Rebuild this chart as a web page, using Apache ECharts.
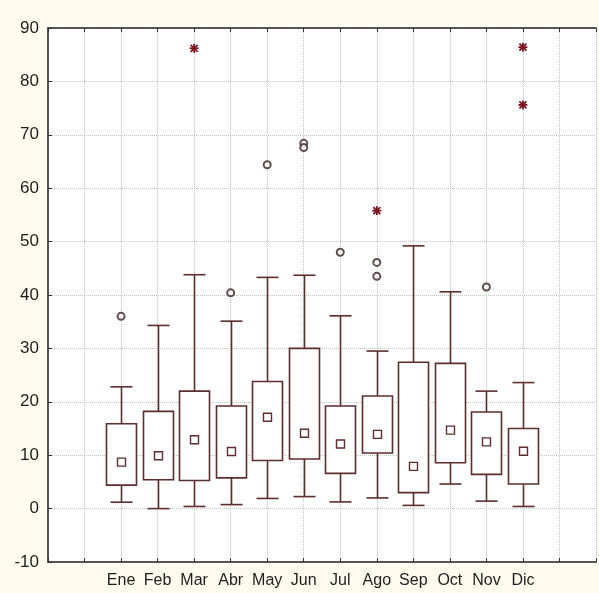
<!DOCTYPE html>
<html>
<head>
<meta charset="utf-8">
<script src="https://cdn.jsdelivr.net/npm/echarts@6/dist/echarts.min.js"></script>
<style>
html,body{margin:0;padding:0;background:#fffbef;}
#c{width:599px;height:593px;}
</style>
</head>
<body>
<div id="c"></div>
<script>
var months = ['Ene','Feb','Mar','Abr','May','Jun','Jul','Ago','Sep','Oct','Nov','Dic'];
var whiskerLow  = [1.2, 0.0, 0.4, 0.75, 1.9, 2.25, 1.25, 2.0, 0.6, 4.6, 1.4, 0.4];
var boxLow      = [4.4, 5.4, 5.25, 5.75, 9.0, 9.3, 6.6, 10.4, 3.0, 8.6, 6.4, 4.6];
var medians     = [8.7, 9.9, 12.9, 10.7, 17.1, 14.1, 12.1, 13.9, 7.9, 14.7, 12.5, 10.75];
var boxHigh     = [15.9, 18.2, 22.0, 19.2, 23.8, 30.0, 19.2, 21.1, 27.4, 27.2, 18.1, 15.0];
var whiskerHigh = [22.8, 34.3, 43.8, 35.1, 43.3, 43.7, 36.1, 29.5, 49.2, 40.6, 22.0, 23.6];
// outliers: [month index, value]
var outliers = [[0,36.0],[3,40.4],[4,64.4],[5,68.4],[5,67.6],[6,48.0],[7,46.1],[7,43.5],[10,41.5]];
// extremes: [month index, value]
var extremes = [[2,86.2],[7,55.8],[11,86.4],[11,75.6]];

var OFFSET = 2; // first month sits at x = 2 on the axis (empty slot before)

var boxData = months.map(function(m,i){
  return [i+OFFSET, whiskerLow[i], boxLow[i], medians[i], boxHigh[i], whiskerHigh[i]];
});
var outData = outliers.map(function(d){ return [d[0]+OFFSET, d[1]]; });
var extData = extremes.map(function(d){ return [d[0]+OFFSET, d[1]]; });

var lineColor = '#5e2d2d';
var font = '"Liberation Sans", Arial, sans-serif';

var chart = echarts.init(document.getElementById('c'));
chart.setOption({
  backgroundColor: '#fffbef',
  animation: false,
  grid: {left: 48, top: 28, bottom: 31, right: -4, show: true, backgroundColor: '#ffffff', borderWidth: 0},
  xAxis: [{
    type: 'value', min: 0, max: 15, interval: 1, position: 'bottom',
    axisLine: {show: true, onZero: false, lineStyle: {color: '#555', width: 2}},
    axisTick: {show: true, inside: true, length: 4, lineStyle: {color: '#333'}},
    axisLabel: {color: '#1e1e1e', fontFamily: font, fontSize: 16, margin: 11,
      formatter: function(v){ return months[v-OFFSET] || ''; }},
    splitLine: {show: true, lineStyle: {color: '#c4c4c4', type: 'dotted', width: 1}}
  },{
    type: 'value', min: 0, max: 15, interval: 1, position: 'top',
    axisLine: {show: true, onZero: false, lineStyle: {color: '#555', width: 2}},
    axisTick: {show: true, inside: true, length: 4, lineStyle: {color: '#333'}},
    axisLabel: {show: false},
    splitLine: {show: false}
  }],
  yAxis: {
    type: 'value', min: -10, max: 90, interval: 10,
    axisLine: {show: true, onZero: false, lineStyle: {color: '#555', width: 2}},
    axisTick: {show: true, inside: true, length: 4, lineStyle: {color: '#333'}},
    axisLabel: {color: '#1e1e1e', fontFamily: font, fontSize: 17, margin: 9},
    splitLine: {show: true, lineStyle: {color: '#c4c4c4', type: 'dotted', width: 1}}
  },
  series: [{
    type: 'custom',
    data: boxData,
    encode: {x: 0, y: [1,2,3,4,5]},
    renderItem: function(params, api){
      var x = api.value(0);
      var pLo = api.coord([x, api.value(1)]);
      var pQ1 = api.coord([x, api.value(2)]);
      var pMd = api.coord([x, api.value(3)]);
      var pQ3 = api.coord([x, api.value(4)]);
      var pHi = api.coord([x, api.value(5)]);
      var cx = Math.round(pMd[0]) + 0.5;
      var bw = 30, cw = 22, sq = 8;
      var st = {stroke: lineColor, lineWidth: 1.6, fill: null};
      return {type: 'group', children: [
        {type: 'line', shape: {x1: cx, y1: pHi[1], x2: cx, y2: pQ3[1]}, style: st},
        {type: 'line', shape: {x1: cx, y1: pQ1[1], x2: cx, y2: pLo[1]}, style: st},
        {type: 'line', shape: {x1: cx-cw/2, y1: pHi[1], x2: cx+cw/2, y2: pHi[1]}, style: st},
        {type: 'line', shape: {x1: cx-cw/2, y1: pLo[1], x2: cx+cw/2, y2: pLo[1]}, style: st},
        {type: 'rect', shape: {x: cx-bw/2, y: pQ3[1], width: bw, height: pQ1[1]-pQ3[1]}, style: {stroke: lineColor, lineWidth: 1.6, fill: '#ffffff'}},
        {type: 'rect', shape: {x: cx-sq/2, y: pMd[1]-sq/2, width: sq, height: sq}, style: {stroke: lineColor, lineWidth: 1.4, fill: '#ffffff'}}
      ]};
    }
  },{
    type: 'scatter',
    data: outData,
    symbol: 'emptyCircle',
    symbolSize: 7,
    itemStyle: {color: '#3a2222', borderColor: '#3a2222', borderWidth: 1.3}
  },{
    type: 'custom',
    data: extData,
    encode: {x: 0, y: 1},
    renderItem: function(params, api){
      var p = api.coord([api.value(0), api.value(1)]);
      var r = 4.5, d = 3.5;
      var st = {stroke: '#7a1520', lineWidth: 1.8};
      return {type: 'group', children: [
        {type: 'line', shape: {x1: p[0]-r, y1: p[1], x2: p[0]+r, y2: p[1]}, style: st},
        {type: 'line', shape: {x1: p[0], y1: p[1]-r, x2: p[0], y2: p[1]+r}, style: st},
        {type: 'line', shape: {x1: p[0]-d, y1: p[1]-d, x2: p[0]+d, y2: p[1]+d}, style: st},
        {type: 'line', shape: {x1: p[0]-d, y1: p[1]+d, x2: p[0]+d, y2: p[1]-d}, style: st}
      ]};
    }
  }]
});
</script>
</body>
</html>
